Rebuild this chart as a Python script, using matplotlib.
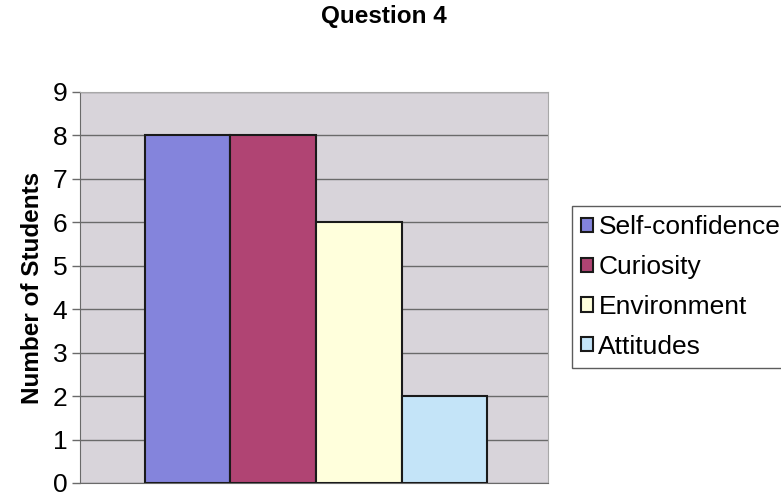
import matplotlib.pyplot as plt
import numpy as np

plt.rcParams['font.family'] = ['Liberation Sans', 'DejaVu Sans']

categories = ['Self-confidence', 'Curiosity', 'Environment', 'Attitudes']
students = [8, 8, 6, 2]
colors = ['#8484dc', '#b04473', '#ffffdc', '#c4e4f8']

fig = plt.figure(figsize=(7.81, 4.97), dpi=100)
ax = fig.add_axes([0.1024, 0.0282, 0.5993, 0.7867])
ax.set_facecolor('#d8d4da')

x = np.arange(len(categories))
bars = ax.bar(x, students, width=1.0, color=colors, edgecolor='#1a1a1a',
              linewidth=1.5, label=categories, zorder=3)

ax.set_xlim(-1.256, 4.21)
ax.set_ylim(0, 9)
ax.set_yticks(range(0, 10))
ax.set_xticks([])
ax.yaxis.grid(True, color='#6a6a6a', linewidth=1.0, zorder=1)
ax.tick_params(axis='y', labelsize=19, length=6, width=1, color='#6a6a6a', pad=3)

for side in ['top', 'right']:
    ax.spines[side].set_color('#a8a8a8')
for side in ['left', 'bottom']:
    ax.spines[side].set_color('#6a6a6a')

ax.set_ylabel('Number of Students', fontsize=17.5, fontweight='bold', labelpad=6)
fig.text(0.492, 0.967, 'Question 4', ha='center', va='center',
         fontsize=17.5, fontweight='bold')

leg = fig.legend(handles=bars, labels=categories, loc='upper left',
                 bbox_to_anchor=(0.7324, 0.5855), fontsize=19, frameon=True,
                 fancybox=False, edgecolor='#333333', handlelength=0.45,
                 handleheight=0.45, handletextpad=0.2, labelspacing=0.6,
                 borderpad=0.35, borderaxespad=0)
leg.get_frame().set_linewidth(1.0)

plt.savefig('out.png', dpi=100)
